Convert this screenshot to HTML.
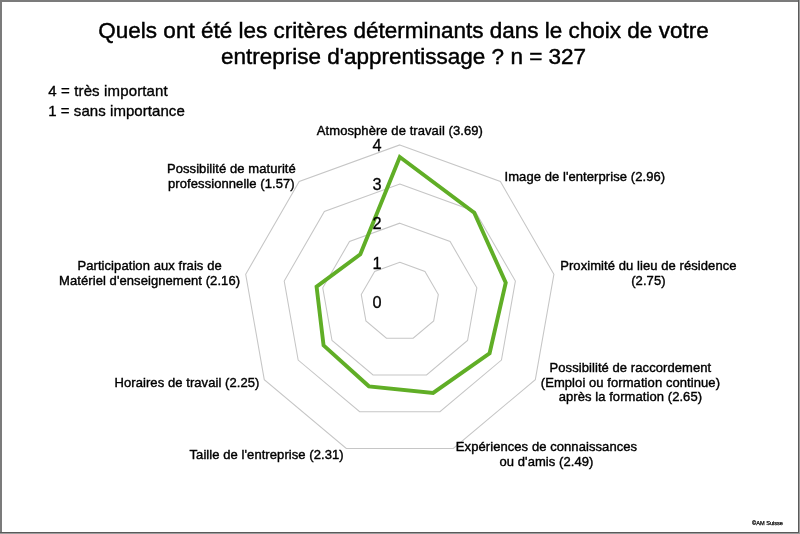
<!DOCTYPE html>
<html><head><meta charset="utf-8"><style>
html,body{margin:0;padding:0;background:#fff;}
body{width:800px;height:534px;position:relative;overflow:hidden;font-family:"Liberation Sans",sans-serif;}
svg{position:absolute;left:0;top:0;will-change:transform;}
</style></head><body>
<svg width="800" height="534" viewBox="0 0 800 534" font-family="Liberation Sans, sans-serif">
<rect x="0" y="0" width="800" height="534" fill="#fff"/>
<g fill="none" stroke="#c6c6c6" stroke-width="1.05">
<polygon points="399.80,262.28 424.95,271.43 438.33,294.61 433.68,320.96 413.18,338.16 386.42,338.16 365.92,320.96 361.27,294.61 374.65,271.43"/>
<polygon points="399.80,223.16 450.09,241.46 476.85,287.81 467.56,340.52 426.56,374.92 373.04,374.92 332.04,340.52 322.75,287.81 349.51,241.46"/>
<polygon points="399.80,184.04 475.24,211.50 515.38,281.02 501.44,360.08 439.94,411.68 359.66,411.68 298.16,360.08 284.22,281.02 324.36,211.50"/>
<polygon points="399.80,144.92 500.38,181.53 553.90,274.23 535.32,379.64 453.32,448.44 346.28,448.44 264.28,379.64 245.70,274.23 299.22,181.53"/>
</g>
<polygon points="399.80,157.05 474.23,212.70 505.75,282.72 489.58,353.23 433.12,392.93 368.89,386.32 323.57,345.41 316.58,286.73 360.32,254.35" fill="none" stroke="#60ae26" stroke-width="3.9" stroke-linejoin="miter"/>
<g font-size="22.5" fill="#000" text-anchor="middle" stroke="#000" stroke-width="0.45">
<text x="403.5" y="38">Quels ont été les critères déterminants dans le choix de votre</text>
<text x="403.5" y="64">entreprise d&#39;apprentissage ? n = 327</text>
</g>
<g font-size="15" fill="#000" stroke="#000" stroke-width="0.35">
<text x="48.2" y="95.8" letter-spacing="0.14">4 = très important</text>
<text x="48.2" y="115.8" letter-spacing="0.06">1 = sans importance</text>
</g>
<g font-size="16.3" fill="#000" stroke="#000" stroke-width="0.3">
<text x="381.5" y="307.6" text-anchor="end">0</text>
<text x="381.5" y="268.5" text-anchor="end">1</text>
<text x="381.5" y="229.4" text-anchor="end">2</text>
<text x="381.5" y="190.2" text-anchor="end">3</text>
<text x="381.5" y="151.1" text-anchor="end">4</text>
</g>
<g font-size="13" fill="#000" letter-spacing="0.075" stroke="#000" stroke-width="0.4">
<text x="399.9" y="134.6" text-anchor="middle">Atmosphère de travail (3.69)</text>
<text x="504.5" y="181.0" text-anchor="start">Image de l&#39;enterprise (2.96)</text>
<text x="648.4" y="269.7" text-anchor="middle">Proximité du lieu de résidence</text>
<text x="648.4" y="285.0" text-anchor="middle">(2.75)</text>
<text x="630.4" y="372.2" text-anchor="middle">Possibilité de raccordement</text>
<text x="630.4" y="386.7" text-anchor="middle">(Emploi ou formation continue)</text>
<text x="630.4" y="401.2" text-anchor="middle">après la formation (2.65)</text>
<text x="546.5" y="451.0" text-anchor="middle">Expériences de connaissances</text>
<text x="546.5" y="466.0" text-anchor="middle">ou d&#39;amis (2.49)</text>
<text x="189.5" y="458.6" text-anchor="start">Taille de l&#39;entreprise (2.31)</text>
<text x="114.5" y="386.6" text-anchor="start">Horaires de travail (2.25)</text>
<text x="149.6" y="269.6" text-anchor="middle">Participation aux frais de</text>
<text x="149.6" y="284.7" text-anchor="middle">Matériel d&#39;enseignement (2.16)</text>
<text x="231.4" y="172.8" text-anchor="middle">Possibilité de maturité</text>
<text x="231.4" y="187.6" text-anchor="middle">professionnelle (1.57)</text>
</g>
<text x="752" y="525.4" font-size="5.9" fill="#000" stroke="#000" stroke-width="0.25" textLength="31" lengthAdjust="spacingAndGlyphs">©AM Suisse</text>
<rect x="0" y="0" width="800" height="2" fill="#7b7b7b"/>
<rect x="0" y="0" width="2" height="534" fill="#7b7b7b"/>
<rect x="798" y="0" width="1" height="533" fill="#5a5a5a"/>
<rect x="799" y="0" width="1" height="534" fill="#9c9c9c"/>
<rect x="0" y="532" width="799" height="1" fill="#5a5a5a"/>
<rect x="0" y="533" width="800" height="1" fill="#9c9c9c"/>
</svg>
</body></html>
